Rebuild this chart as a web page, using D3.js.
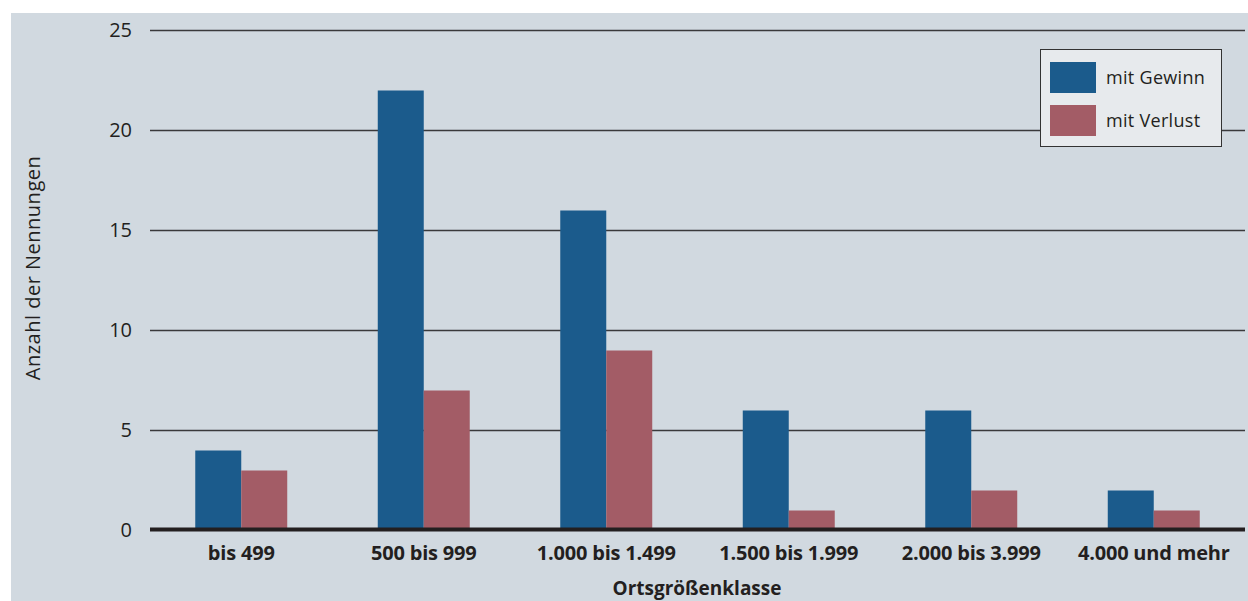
<!DOCTYPE html>
<html>
<head>
<meta charset="utf-8">
<script src="https://cdn.jsdelivr.net/npm/d3@7"></script>
<style>
  html, body { margin: 0; padding: 0; background: #ffffff; }
  svg { display: block; }
  text { font-family: "Open Sans", "Noto Sans", sans-serif; fill: #231f20; }
</style>
</head>
<body>
<svg id="chart" width="1248" height="601"></svg>
<script>
// Data: Nennungen je Ortsgrößenklasse
const categories = ["bis 499", "500 bis 999", "1.000 bis 1.499", "1.500 bis 1.999", "2.000 bis 3.999", "4.000 und mehr"];
const seriesNames = ["mit Gewinn", "mit Verlust"];
const gewinn = [4, 22, 16, 6, 6, 2];
const verlust = [3, 7, 9, 1, 2, 1];
const yTicks = [0, 5, 10, 15, 20, 25];

const colors = { "mit Gewinn": "#1b5b8c", "mit Verlust": "#a35c66" };
const seriesValues = { "mit Gewinn": gewinn, "mit Verlust": verlust };

const svg = d3.select("#chart");
const W = 1248, H = 601;

// panel background
svg.append("rect")
  .attr("x", 11).attr("y", 13)
  .attr("width", W - 11).attr("height", H - 13)
  .attr("fill", "#d1d9e0");

const x0 = 150, x1 = 1245;
const x = d3.scaleBand()
  .domain(categories)
  .range([x0, x1])
  .paddingInner(0.496)
  .paddingOuter(0.248);

const xs = d3.scaleBand()
  .domain(seriesNames)
  .range([0, x.bandwidth()]);

const y = d3.scaleLinear().domain([0, 25]).range([530.5, 30.5]);

// gridlines
svg.append("g")
  .selectAll("line")
  .data(yTicks.filter(d => d > 0))
  .join("line")
  .attr("x1", x0).attr("x2", x1)
  .attr("y1", d => y(d)).attr("y2", d => y(d))
  .attr("stroke", "#3a3a3c")
  .attr("stroke-width", 1.5);

// y tick labels
const yAxis = d3.axisLeft(y).tickValues(yTicks).tickSize(0).tickPadding(0);
const gy = svg.append("g").attr("transform", "translate(132,0)").call(yAxis);
gy.select(".domain").remove();
gy.selectAll("text")
  .attr("font-size", 20)
  .attr("fill", "#231f20")
  .attr("dy", "0.32em")
  .style("font-family", "'Open Sans', 'Noto Sans', sans-serif");

// bars
const groups = svg.append("g")
  .selectAll("g")
  .data(categories)
  .join("g")
  .attr("transform", d => `translate(${x(d)},0)`);

groups.selectAll("rect")
  .data((c, i) => seriesNames.map(s => ({ s, v: seriesValues[s][i] })))
  .join("rect")
  .attr("x", d => xs(d.s))
  .attr("width", xs.bandwidth())
  .attr("y", d => y(d.v))
  .attr("height", d => y(0) - y(d.v))
  .attr("fill", d => colors[d.s]);

// baseline axis
const xAxis = d3.axisBottom(x).tickSize(0).tickPadding(0);
const gx = svg.append("g").attr("transform", `translate(0,${y(0) - 1})`).call(xAxis);
gx.select(".domain")
  .attr("stroke", "#231f20")
  .attr("stroke-width", 4)
  .attr("d", `M${x0},0H${x1}`);
gx.selectAll("text")
  .attr("y", 0)
  .attr("dy", 30)
  .attr("font-size", 20)
  .attr("font-weight", 700)
  .attr("fill", "#231f20")
  .style("font-family", "'Open Sans', 'Noto Sans', sans-serif")
  .style("letter-spacing", "-0.2px");

// axis titles
svg.append("text")
  .attr("x", 697).attr("y", 595)
  .attr("text-anchor", "middle")
  .attr("font-size", 19)
  .attr("font-weight", 700)
  .text("Ortsgrößenklasse");

svg.append("text")
  .attr("transform", "translate(40,268) rotate(-90)")
  .attr("text-anchor", "middle")
  .attr("font-size", 20)
  .style("letter-spacing", "0.5px")
  .text("Anzahl der Nennungen");

// legend
const lg = svg.append("g");
lg.append("rect")
  .attr("x", 1040.5).attr("y", 49.5)
  .attr("width", 181).attr("height", 97)
  .attr("fill", "#e7eaed")
  .attr("stroke", "#333333")
  .attr("stroke-width", 1);

const items = lg.selectAll("g.item")
  .data(seriesNames)
  .join("g")
  .attr("class", "item")
  .attr("transform", (d, i) => `translate(1050,${62 + i * 43})`);
items.append("rect")
  .attr("width", 46).attr("height", 31)
  .attr("fill", d => colors[d]);
items.append("text")
  .attr("x", 56).attr("y", 22)
  .attr("font-size", 18)
  .style("letter-spacing", "0.3px")
  .text(d => d);
</script>
</body>
</html>
